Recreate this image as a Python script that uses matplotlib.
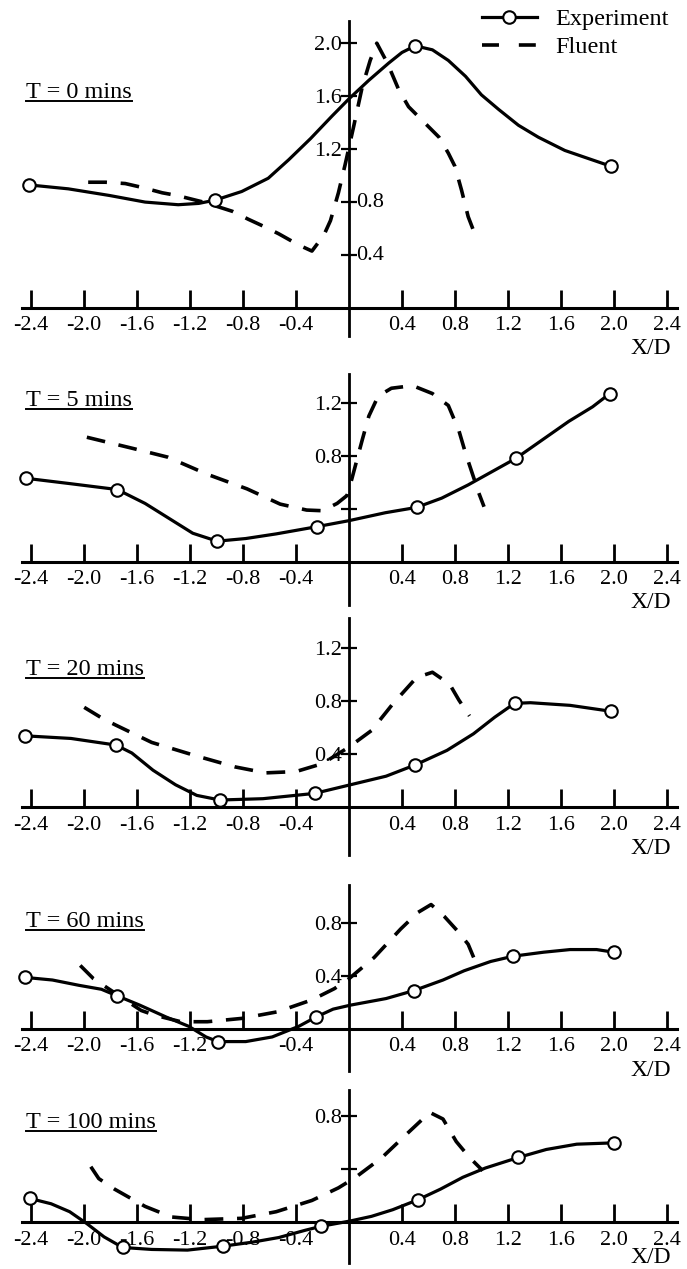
import matplotlib
matplotlib.use("Agg")
import matplotlib.pyplot as plt
from matplotlib.lines import Line2D

plt.rcParams["font.family"] = ["Liberation Serif", "DejaVu Serif"]

# ---- data (X/D vs value) ----
TITLES = ["T = 0 mins", "T = 5 mins", "T = 20 mins", "T = 60 mins", "T = 100 mins"]

# experiment: measured points (markers)
EXP_PTS_X = [
    [-2.42, -1.01, 0.50, 1.98],
    [-2.44, -1.75, -0.996, -0.24, 0.51, 1.26, 1.97],
    [-2.45, -1.76, -0.975, -0.26, 0.50, 1.25, 1.98],
    [-2.45, -1.75, -0.99, -0.25, 0.49, 1.24, 2.00],
    [-2.41, -1.71, -0.95, -0.21, 0.52, 1.28, 2.00],
]
EXP_PTS_Y = [
    [0.93, 0.815, 1.98, 1.07],
    [0.63, 0.545, 0.155, 0.265, 0.41, 0.78, 1.27],
    [0.54, 0.47, 0.055, 0.105, 0.32, 0.785, 0.725],
    [0.39, 0.25, -0.095, 0.09, 0.29, 0.55, 0.58],
    [0.18, -0.19, -0.18, -0.03, 0.17, 0.49, 0.60],
]

# experiment: smoothed curve as traced
EXP_CURVE_X = [
    [-2.42, -2.12, -1.81, -1.54, -1.29, -1.135, -1.01, -0.81, -0.61, -0.455, -0.29,
     -0.128, 0.0, 0.15, 0.30, 0.40, 0.50, 0.63, 0.75, 0.88, 1.0, 1.13, 1.28, 1.43,
     1.63, 1.79, 1.98],
    [-2.44, -2.11, -1.75, -1.54, -1.38, -1.18, -0.996, -0.78, -0.55, -0.24, 0.0,
     0.275, 0.51, 0.70, 0.90, 1.08, 1.26, 1.46, 1.66, 1.84, 1.97],
    [-2.45, -2.1, -1.76, -1.64, -1.48, -1.31, -1.15, -0.975, -0.65, -0.26, 0.01,
     0.28, 0.50, 0.74, 0.94, 1.10, 1.25, 1.37, 1.67, 1.98],
    [-2.45, -2.24, -2.04, -1.87, -1.75, -1.58, -1.38, -1.21, -1.08, -0.99, -0.78,
     -0.58, -0.38, -0.25, -0.12, 0.01, 0.28, 0.49, 0.71, 0.87, 1.07, 1.24, 1.47,
     1.67, 1.87, 2.0],
    [-2.41, -2.25, -2.11, -1.98, -1.85, -1.71, -1.49, -1.22, -0.95, -0.73, -0.53,
     -0.33, -0.21, 0.01, 0.17, 0.33, 0.52, 0.69, 0.86, 1.03, 1.28, 1.49, 1.72, 2.0],
]
EXP_CURVE_Y = [
    [0.93, 0.90, 0.85, 0.80, 0.78, 0.79, 0.815, 0.88, 0.98, 1.12, 1.28,
     1.45, 1.58, 1.72, 1.85, 1.93, 1.98, 1.95, 1.87, 1.75, 1.61, 1.50, 1.38, 1.29,
     1.19, 1.135, 1.07],
    [0.63, 0.59, 0.545, 0.44, 0.34, 0.215, 0.155, 0.175, 0.21, 0.265, 0.31,
     0.37, 0.41, 0.48, 0.58, 0.68, 0.78, 0.92, 1.06, 1.17, 1.27],
    [0.54, 0.52, 0.47, 0.41, 0.28, 0.17, 0.09, 0.055, 0.065, 0.105, 0.17,
     0.235, 0.32, 0.43, 0.555, 0.68, 0.785, 0.79, 0.77, 0.725],
    [0.39, 0.37, 0.33, 0.30, 0.25, 0.18, 0.09, 0.02, -0.06, -0.095, -0.095,
     -0.06, 0.02, 0.09, 0.15, 0.18, 0.23, 0.29, 0.37, 0.44, 0.51, 0.55, 0.58,
     0.60, 0.60, 0.58],
    [0.18, 0.14, 0.08, -0.01, -0.11, -0.19, -0.205, -0.21, -0.18, -0.15, -0.115,
     -0.06, -0.03, 0.01, 0.045, 0.095, 0.17, 0.25, 0.34, 0.41, 0.49, 0.55, 0.59, 0.60],
]

# Fluent prediction (dashed)
FLUENT_X = [
    [-1.97, -1.84, -1.69, -1.56, -1.41, -1.30, -1.10, -0.88, -0.76, -0.63, -0.53,
     -0.38, -0.28, -0.19, -0.14, -0.08, -0.03, 0.035, 0.10, 0.16, 0.21, 0.29,
     0.375, 0.45, 0.58, 0.68, 0.75, 0.80, 0.85, 0.90, 0.95],
    [-1.98, -1.63, -1.37, -1.07, -0.77, -0.52, -0.32, -0.20, -0.09, -0.015, 0.02,
     0.06, 0.10, 0.15, 0.22, 0.32, 0.48, 0.63, 0.75, 0.83, 0.88, 0.93, 0.98, 1.02],
    [-2.0, -1.86, -1.76, -1.49, -1.16, -0.86, -0.63, -0.40, -0.2, 0.0, 0.17,
     0.33, 0.51, 0.63, 0.76, 0.83, 0.91],
    [-2.03, -1.93, -1.57, -1.47, -1.27, -1.07, -0.81, -0.54, -0.28, -0.11, 0.0,
     0.19, 0.39, 0.52, 0.62, 0.72, 0.82, 0.90, 0.95],
    [-1.95, -1.89, -1.77, -1.54, -1.34, -1.11, -0.81, -0.55, -0.28, -0.08, 0.05,
     0.25, 0.45, 0.61, 0.71, 0.81, 0.91, 1.01],
]
FLUENT_Y = [
    [0.95, 0.95, 0.94, 0.91, 0.87, 0.85, 0.80, 0.73, 0.67, 0.61, 0.56,
     0.476, 0.43, 0.55, 0.66, 0.87, 1.08, 1.37, 1.67, 1.87, 2.0, 1.85,
     1.65, 1.52, 1.39, 1.29, 1.17, 1.07, 0.89, 0.69, 0.56],
    [0.94, 0.855, 0.79, 0.66, 0.55, 0.435, 0.39, 0.385, 0.44, 0.50, 0.62,
     0.77, 0.92, 1.10, 1.25, 1.31, 1.33, 1.27, 1.18, 0.99, 0.82, 0.67, 0.52, 0.415],
    [0.755, 0.67, 0.62, 0.49, 0.39, 0.305, 0.26, 0.27, 0.33, 0.455, 0.58,
     0.78, 0.98, 1.02, 0.93, 0.81, 0.69],
    [0.48, 0.38, 0.14, 0.105, 0.055, 0.055, 0.08, 0.13, 0.22, 0.305, 0.38,
     0.54, 0.755, 0.88, 0.94, 0.85, 0.74, 0.64, 0.52],
    [0.42, 0.33, 0.25, 0.12, 0.04, 0.02, 0.03, 0.08, 0.165, 0.26, 0.34,
     0.49, 0.68, 0.83, 0.78, 0.61, 0.49, 0.39],
]

X_TICKS = [-2.4, -2.0, -1.6, -1.2, -0.8, -0.4, 0.4, 0.8, 1.2, 1.6, 2.0, 2.4]
X_LABELS = [
    ["-2.4", "-2.0", "-1.6", "-1.2", "-0.8", "-0.4", "0.4", "0.8", "1.2", "1.6", "2.0", "2.4"],
    ["-2.4", "-2.0", "-1.6", "-1.2", "-0.8", "-0.4", "0.4", "0.8", "1.2", "1.6", "2.0", "2.4"],
    ["-2.4", "-2.0", "-1.6", "-1.2", "-0.8", "-0.4", "0.4", "0.8", "1.2", "1.6", "2.0", "2.4"],
    ["-2.4", "-2.0", "-1.6", "-1.2", "", "-0.4", "0.4", "0.8", "1.2", "1.6", "2.0", "2.4"],
    ["-2.4", "-2.0", "-1.6", "-1.2", "-0.8", "-0.4", "0.4", "0.8", "1.2", "1.6", "2.0", "2.4"],
]
Y_TICKS = [[0.4, 0.8, 1.2, 1.6, 2.0], [0.4, 0.8, 1.2], [0.4, 0.8, 1.2], [0.4, 0.8], [0.4, 0.8]]
Y_LABELS_LEFT = [["", "", "1.2", "1.6", "2.0"], ["", "0.8", "1.2"], ["0.4", "0.8", "1.2"],
                 ["0.4", "0.8"], ["", "0.8"]]
Y_LABELS_RIGHT = [["0.4", "0.8"], [], [], [], []]   # panel 1 puts these right of the axis

# ---- layout (pixels of the 687x1269 canvas) ----
W, H = 687, 1269
S = 132.4          # pixels per X/D unit (both directions)
X0 = 349           # pixel column of x = 0
ZERO_PX = [308, 561.7, 807.3, 1029, 1222.3]   # pixel row of y = 0
Y_RANGE = [(-0.21, 2.17), (-0.33, 1.42), (-0.36, 1.43), (-0.32, 1.09), (-0.31, 1.0)]
TITLE_Y = [1.565, 1.15, 0.98, 0.75, 0.69]      # underline height, data units
XD_DROP = [41, 41, 41, 41, 35]                 # px below the axis for "X/D"

fig = plt.figure(figsize=(W / 100, H / 100), dpi=100)

axes = []
titles = []
for i in range(5):
    ymin, ymax = Y_RANGE[i]
    bot_px = ZERO_PX[i] - ymin * S
    top_px = ZERO_PX[i] - ymax * S
    ax = fig.add_axes([0, 1 - bot_px / H, 1, (bot_px - top_px) / H])
    ax.set_xlim(-X0 / S, (W - X0) / S)
    ax.set_ylim(ymin, ymax)
    ax.patch.set_visible(False)

    for side in ["top", "right"]:
        ax.spines[side].set_visible(False)
    ax.spines["left"].set_position(("data", 0))
    ax.spines["bottom"].set_position(("data", 0))
    ax.spines["left"].set_linewidth(2.0)
    ax.spines["bottom"].set_linewidth(2.2)
    ax.spines["bottom"].set_bounds(-2.47, 2.48)

    ax.set_xticks(X_TICKS)
    ax.set_xticklabels(X_LABELS[i])
    ax.tick_params(axis="x", direction="in", length=13, width=2, pad=6, labelsize=16)
    ax.set_yticks(Y_TICKS[i])
    ax.set_yticklabels(Y_LABELS_LEFT[i])
    ax.tick_params(axis="y", direction="inout", length=12, width=1.6, pad=-1, labelsize=16)
    for lab in Y_LABELS_RIGHT[i]:
        ax.annotate(lab, xy=(0, float(lab)), xytext=(5, 0), textcoords="offset points",
                    ha="left", va="center", fontsize=16)

    # Fluent
    ax.plot(FLUENT_X[i], FLUENT_Y[i], color="black", lw=2.6, dashes=(5.2, 3.8),
            dash_capstyle="butt", dash_joinstyle="round", zorder=3, clip_on=False)
    # Experiment curve + markers
    ax.plot(EXP_CURVE_X[i], EXP_CURVE_Y[i], color="black", lw=2.3, zorder=4,
            solid_joinstyle="round", clip_on=False)
    ax.plot(EXP_PTS_X[i], EXP_PTS_Y[i], linestyle="none", marker="o", markersize=9,
            markerfacecolor="white", markeredgecolor="black", markeredgewidth=1.5,
            zorder=5, clip_on=False)

    ax.text((671 - X0) / S, -XD_DROP[i] / S, "X/D", ha="right", va="center", fontsize=17)
    t = ax.text((26 - X0) / S, TITLE_Y[i] + 3 / S, TITLES[i], ha="left", va="baseline",
                fontsize=17.5)
    axes.append(ax)
    titles.append(t)

# legend in the top-right corner
handles = [
    Line2D([], [], color="black", lw=2.3, marker="o", markersize=9,
           markerfacecolor="white", markeredgecolor="black", markeredgewidth=1.5),
    Line2D([], [], color="black", lw=2.6, dashes=(4.7, 5.5)),
]
fig.legend(handles, ["Experiment", "Fluent"], loc="upper left",
           bbox_to_anchor=(482 / W, 1 - 8 / H), frameon=False, fontsize=17.5,
           handlelength=2.26, handletextpad=0.74, labelspacing=0.26,
           borderpad=0, borderaxespad=0, numpoints=1)

# underline the panel titles
fig.canvas.draw()
renderer = fig.canvas.get_renderer()
for ax, t, uy in zip(axes, titles, TITLE_Y):
    bb = t.get_window_extent(renderer)
    inv = ax.transData.inverted()
    x0 = inv.transform((bb.x0, bb.y0))[0]
    x1 = inv.transform((bb.x1, bb.y0))[0]
    ax.plot([x0, x1], [uy, uy], color="black", lw=1.4, clip_on=False)

fig.savefig("out.png", dpi=100)
